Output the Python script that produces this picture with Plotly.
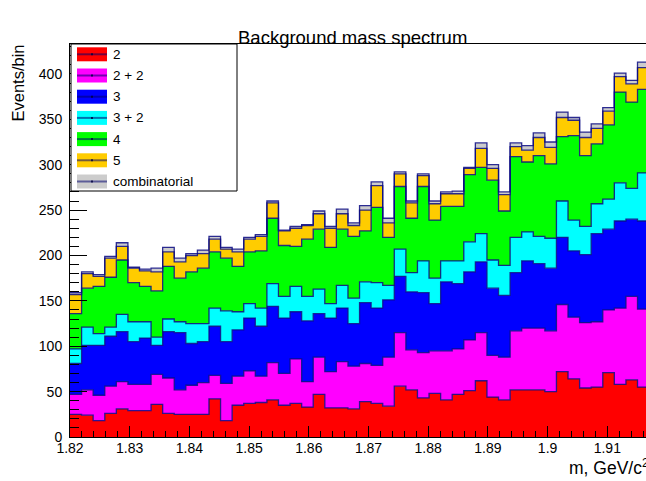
import numpy as np
import plotly.graph_objects as go

# Histogram binning
x_min = 1.82
bin_width = 0.00194
n_bins = 50

# Per-bin counts of each stacked component (bottom to top)
counts_2 = [25, 24, 18, 26, 31, 29, 29, 36, 26, 25,
            25, 25, 42, 18, 35, 37, 38, 41, 35, 37,
            33, 47, 32, 32, 31, 39, 37, 34, 56, 52,
            43, 48, 41, 47, 51, 62, 44, 41, 52, 52,
            52, 50, 72, 64, 54, 55, 71, 58, 63, 55]
counts_2p2 = [22, 28, 28, 30, 30, 29, 29, 33, 39, 27,
              32, 35, 26, 41, 32, 36, 29, 41, 35, 49,
              28, 41, 40, 51, 47, 42, 42, 54, 59, 44,
              50, 47, 54, 50, 56, 53, 46, 47, 65, 68,
              68, 67, 74, 68, 72, 72, 69, 84, 92, 86]
counts_3 = [34, 49, 55, 55, 55, 47, 51, 32, 51, 63,
            46, 45, 54, 46, 51, 58, 55, 62, 61, 52,
            67, 48, 59, 59, 47, 67, 63, 63, 62, 64,
            66, 52, 76, 72, 75, 78, 74, 68, 64, 74,
            71, 69, 74, 73, 75, 97, 89, 96, 85, 97]
counts_3p2 = [16, 20, 13, 10, 19, 22, 18, 9, 14, 12,
              22, 20, 20, 34, 20, 16, 20, 25, 24, 28,
              27, 27, 16, 25, 28, 23, 28, 16, 30, 21,
              35, 28, 23, 25, 33, 31, 31, 33, 39, 32,
              30, 33, 40, 34, 31, 33, 33, 42, 34, 53]
counts_4 = [39, 43, 52, 55, 60, 43, 39, 51, 58, 48,
            57, 61, 62, 58, 50, 57, 63, 72, 56, 44,
            63, 66, 62, 62, 68, 56, 83, 53, 69, 60,
            82, 64, 60, 60, 74, 73, 88, 60, 89, 77,
            89, 82, 71, 93, 78, 66, 82, 100, 95, 92]
counts_5 = [21, 16, 11, 21, 15, 16, 17, 21, 16, 18,
            18, 16, 14, 10, 16, 14, 16, 17, 16, 20,
            15, 17, 21, 17, 12, 23, 24, 16, 14, 17,
            12, 18, 14, 14, 7, 21, 13, 18, 11, 13,
            20, 18, 21, 17, 20, 17, 15, 17, 20, 24]
counts_comb = [2, 2, 2, 2, 4, 1, 2, 4, 5, 4,
               2, 4, 3, 2, 3, 2, 2, 2, 1, 2,
               1, 3, 2, 5, 3, 5, 4, 5, 2, 2,
               2, 3, 2, 3, 1, 6, 4, 3, 4, 5,
               5, 6, 6, 3, 6, 5, 4, 4, 4, 6]

series_names = ["2", "2 + 2", "3", "3 + 2", "4", "5", "combinatorial"]
series_colors = ["#ff0000", "#ff00ff", "#0000ff", "#00ffff",
                 "#00ff00", "#ffcc00", "#cccccc"]

x_tick_labels = ["1.82", "1.83", "1.84", "1.85", "1.86",
                 "1.87", "1.88", "1.89", "1.9", "1.91"]
y_tick_labels = ["0", "50", "100", "150", "200", "250", "300", "350", "400"]

# Canvas geometry (pixels)
W, H = 646, 481
L, R, T, B = 70, 0, 44, 44
plot_w = W - L - R
plot_h = H - T - B
px_per_unit = 5970.0
x_max = x_min + plot_w / px_per_unit
y_max = 433


def px2x(px):
    return (px - L) / plot_w


def py2y(py):
    return (H - B - py) / plot_h


outline = "rgba(10,10,130,0.85)"

series = [counts_2, counts_2p2, counts_3, counts_3p2, counts_4, counts_5, counts_comb]
stack = np.cumsum(np.array(series, dtype=float), axis=0)
edges = x_min + bin_width * np.arange(n_bins + 1)

fig = go.Figure()
for i, (name, color) in enumerate(zip(series_names, series_colors)):
    top = np.append(stack[i], stack[i][-1])
    fig.add_trace(go.Scatter(
        x=edges, y=top, mode="lines", name=name,
        line=dict(shape="hv", color=outline, width=1.3),
        fill="tozeroy" if i == 0 else "tonexty",
        fillcolor=color, hoverinfo="skip",
    ))

font_family = "Liberation Sans, Arial, Helvetica, sans-serif"

fig.update_layout(
    width=W, height=H,
    margin=dict(l=L, r=R, t=T, b=B, pad=0),
    paper_bgcolor="white", plot_bgcolor="white",
    showlegend=False,
    font=dict(family=font_family, size=14, color="black"),
    xaxis=dict(
        range=[x_min, x_max],
        tickmode="array",
        tickvals=[float(v) for v in x_tick_labels],
        ticktext=x_tick_labels,
        ticks="inside", ticklen=11, tickwidth=1, tickcolor="black",
        minor=dict(ticks="inside", ticklen=6, dtick=0.002, tick0=x_min,
                   tickcolor="black", tickwidth=1),
        showline=True, linecolor="black", linewidth=1, mirror=True,
        showgrid=False, zeroline=False,
        tickfont=dict(size=14),
        ticklabelstandoff=-2,
        layer="above traces",
    ),
    yaxis=dict(
        range=[0, y_max],
        tickmode="array",
        tickvals=[float(v) for v in y_tick_labels],
        ticktext=y_tick_labels,
        ticks="inside", ticklen=17, tickwidth=1, tickcolor="black",
        minor=dict(ticks="inside", ticklen=9, dtick=10, tick0=0,
                   tickcolor="black", tickwidth=1),
        showline=True, linecolor="black", linewidth=1,
        showgrid=False, zeroline=False,
        tickfont=dict(size=14),
        ticklabelstandoff=4,
        layer="above traces",
    ),
)

annotations = [
    dict(text="Background mass spectrum", x=px2x(352), y=py2y(37),
         xref="paper", yref="paper", xanchor="center", yanchor="middle",
         showarrow=False, font=dict(size=18.5)),
    dict(text="Events/bin", x=px2x(17), y=py2y(43),
         xref="paper", yref="paper", xanchor="center", yanchor="top",
         textangle=-90, showarrow=False, font=dict(size=16.5)),
    dict(text="m, GeV/c<sup>2</sup>", x=px2x(567), y=py2y(467),
         xref="paper", yref="paper", xanchor="left", yanchor="middle",
         showarrow=False, font=dict(size=17.5)),
]

# Legend box with one row per component
shapes = [dict(type="rect", xref="paper", yref="paper",
               x0=px2x(71), x1=px2x(237), y0=py2y(191), y1=py2y(44),
               fillcolor="white", line=dict(color="black", width=1),
               layer="above")]
row_top = 54.3
row_step = 21.2
for i, (name, color) in enumerate(zip(series_names, series_colors)):
    yc = row_top + i * row_step
    shapes.append(dict(type="rect", xref="paper", yref="paper",
                       x0=px2x(77), x1=px2x(107), y0=py2y(yc + 7), y1=py2y(yc - 7),
                       fillcolor=color, line=dict(width=0), layer="above"))
    shapes.append(dict(type="line", xref="paper", yref="paper",
                       x0=px2x(77), x1=px2x(107), y0=py2y(yc), y1=py2y(yc),
                       line=dict(color="rgba(0,0,110,0.55)", width=2), layer="above"))
    shapes.append(dict(type="rect", xref="paper", yref="paper",
                       x0=px2x(91), x1=px2x(93), y0=py2y(yc + 1), y1=py2y(yc - 1),
                       fillcolor="rgba(0,0,60,0.8)", line=dict(width=0), layer="above"))
    annotations.append(dict(text=name, x=px2x(111), y=py2y(yc),
                            xref="paper", yref="paper", xanchor="left", yanchor="middle",
                            showarrow=False, font=dict(size=13.5)))

fig.update_layout(shapes=shapes, annotations=annotations)
fig.write_html("out.html")
